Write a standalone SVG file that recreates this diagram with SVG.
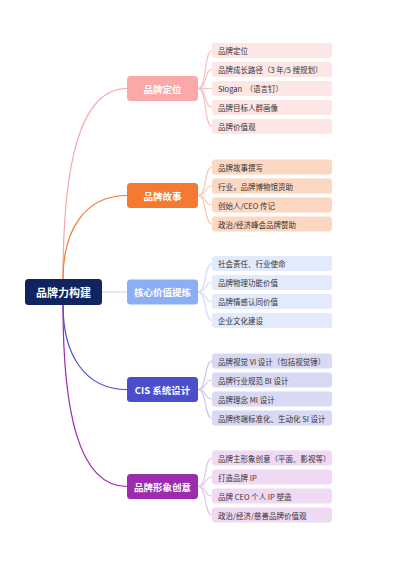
<svg xmlns="http://www.w3.org/2000/svg" width="400" height="566" viewBox="0 0 400 566">
<style>
text{font-family:"Noto Sans CJK SC","Noto Sans",sans-serif;dominant-baseline:central}
.root text,.branch text{fill:#fff;font-weight:bold;text-anchor:middle}
.root text{font-size:11px}
.branch text{font-size:9.5px}
.leaf text{fill:#333;font-size:7.5px}
.conn path{fill:none;stroke-width:1.2}
.p1{fill:#f9a9a9}.l1{fill:#fde6e6}
.p2{fill:#f47a31}.l2{fill:#fcd8c3}
.p3{fill:#8caef5}.l3{fill:#e2eafc}
.p4{fill:#4b4ec8}.l4{fill:#d9d9f4}
.p5{fill:#9a2cad}.l5{fill:#f0d9f3}
</style>
<rect width="400" height="566" fill="#fff"/>
<g id="connectors" class="conn">
<path d="M63,279 C63,170 78,88.5 127,88.5" stroke="#f5a8a8"/>
<path d="M63,279 C63,230 85,195.5 127,195.5" stroke="#f07a30"/>
<path d="M102,292 L127,292" stroke="#cdd9f7"/>
<path d="M63,305 C63,355 85,389.5 127,389.5" stroke="#4b4ec8"/>
<path d="M63,305 C63,410 78,486.5 127,486.5" stroke="#9a2cad"/>
<g stroke="#f6c3c3">
<path d="M198,88.5 C207,88.5 204,50.5 212,50.5"/>
<path d="M198,88.5 C207,88.5 204,69.5 212,69.5"/>
<path d="M198,88.5 L212,88.5"/>
<path d="M198,88.5 C207,88.5 204,107.5 212,107.5"/>
<path d="M198,88.5 C207,88.5 204,126.5 212,126.5"/>
</g>
<g stroke="#f8cbb0">
<path d="M198,195.5 C207,195.5 204,167 212,167"/>
<path d="M198,195.5 C207,195.5 204,186 212,186"/>
<path d="M198,195.5 C207,195.5 204,205 212,205"/>
<path d="M198,195.5 C207,195.5 204,224 212,224"/>
</g>
<g stroke="#d3def8">
<path d="M198,292 C207,292 204,263.5 212,263.5"/>
<path d="M198,292 C207,292 204,282.5 212,282.5"/>
<path d="M198,292 C207,292 204,301.5 212,301.5"/>
<path d="M198,292 C207,292 204,320.5 212,320.5"/>
</g>
<g stroke="#c9c9ef">
<path d="M198,389.5 C207,389.5 204,361 212,361"/>
<path d="M198,389.5 C207,389.5 204,380 212,380"/>
<path d="M198,389.5 C207,389.5 204,399 212,399"/>
<path d="M198,389.5 C207,389.5 204,418 212,418"/>
</g>
<g stroke="#e5c6ea">
<path d="M198,486.5 C207,486.5 204,458 212,458"/>
<path d="M198,486.5 C207,486.5 204,477 212,477"/>
<path d="M198,486.5 C207,486.5 204,496 212,496"/>
<path d="M198,486.5 C207,486.5 204,515 212,515"/>
</g>
</g>
<g id="root" class="root"><rect x="25" y="279" width="77" height="26" rx="3.5" fill="#0f2461"/><text x="63.5" y="292">品牌力构建</text></g>
<g id="b1" class="branch"><rect class="p1" x="127" y="76" width="71" height="25" rx="3.5"/><text x="162.5" y="88.5">品牌定位</text></g>
<g id="b2" class="branch"><rect class="p2" x="127" y="183" width="71" height="25" rx="3.5"/><text x="162.5" y="195.5">品牌故事</text></g>
<g id="b3" class="branch"><rect class="p3" x="127" y="279.5" width="71" height="25" rx="3.5"/><text x="162.5" y="292">核心价值提炼</text></g>
<g id="b4" class="branch"><rect class="p4" x="127" y="377" width="71" height="25" rx="3.5"/><text x="162.5" y="389.5">CIS 系统设计</text></g>
<g id="b5" class="branch"><rect class="p5" x="127" y="474" width="71" height="25" rx="3.5"/><text x="162.5" y="486.5">品牌形象创意</text></g>
<g id="l1a" class="leaf"><rect class="l1" x="212" y="43" width="120" height="15" rx="3"/><text x="218" y="50.5">品牌定位</text></g>
<g id="l1b" class="leaf"><rect class="l1" x="212" y="62" width="120" height="15" rx="3"/><text x="218" y="69.5">品牌成长路径（3 年/5 搜规划）</text></g>
<g id="l1c" class="leaf"><rect class="l1" x="212" y="81" width="120" height="15" rx="3"/><text x="218" y="88.5" xml:space="preserve">Slogan  （语言钉）</text></g>
<g id="l1d" class="leaf"><rect class="l1" x="212" y="100" width="120" height="15" rx="3"/><text x="218" y="107.5">品牌目标人群画像</text></g>
<g id="l1e" class="leaf"><rect class="l1" x="212" y="119" width="120" height="15" rx="3"/><text x="218" y="126.5">品牌价值观</text></g>
<g id="l2a" class="leaf"><rect class="l2" x="212" y="159.5" width="120" height="15" rx="3"/><text x="218" y="167">品牌故事撰写</text></g>
<g id="l2b" class="leaf"><rect class="l2" x="212" y="178.5" width="120" height="15" rx="3"/><text x="218" y="186">行业，品牌博物馆资助</text></g>
<g id="l2c" class="leaf"><rect class="l2" x="212" y="197.5" width="120" height="15" rx="3"/><text x="218" y="205">创始人/CEO 传记</text></g>
<g id="l2d" class="leaf"><rect class="l2" x="212" y="216.5" width="120" height="15" rx="3"/><text x="218" y="224">政治/经济峰会品牌赞助</text></g>
<g id="l3a" class="leaf"><rect class="l3" x="212" y="256" width="120" height="15" rx="3"/><text x="218" y="263.5">社会责任、行业使命</text></g>
<g id="l3b" class="leaf"><rect class="l3" x="212" y="275" width="120" height="15" rx="3"/><text x="218" y="282.5">品牌物理功能价值</text></g>
<g id="l3c" class="leaf"><rect class="l3" x="212" y="294" width="120" height="15" rx="3"/><text x="218" y="301.5">品牌情感认同价值</text></g>
<g id="l3d" class="leaf"><rect class="l3" x="212" y="313" width="120" height="15" rx="3"/><text x="218" y="320.5">企业文化建设</text></g>
<g id="l4a" class="leaf"><rect class="l4" x="212" y="353.5" width="120" height="15" rx="3"/><text x="218" y="361">品牌视觉 VI 设计（包括视觉锤）</text></g>
<g id="l4b" class="leaf"><rect class="l4" x="212" y="372.5" width="120" height="15" rx="3"/><text x="218" y="380">品牌行业规范 BI 设计</text></g>
<g id="l4c" class="leaf"><rect class="l4" x="212" y="391.5" width="120" height="15" rx="3"/><text x="218" y="399">品牌理念 MI 设计</text></g>
<g id="l4d" class="leaf"><rect class="l4" x="212" y="410.5" width="120" height="15" rx="3"/><text x="218" y="418">品牌终端标准化、生动化 SI 设计</text></g>
<g id="l5a" class="leaf"><rect class="l5" x="212" y="450.5" width="120" height="15" rx="3"/><text x="218" y="458">品牌主形象创意（平面、影视等）</text></g>
<g id="l5b" class="leaf"><rect class="l5" x="212" y="469.5" width="120" height="15" rx="3"/><text x="218" y="477">打造品牌 IP</text></g>
<g id="l5c" class="leaf"><rect class="l5" x="212" y="488.5" width="120" height="15" rx="3"/><text x="218" y="496">品牌 CEO 个人 IP 塑造</text></g>
<g id="l5d" class="leaf"><rect class="l5" x="212" y="507.5" width="120" height="15" rx="3"/><text x="218" y="515">政治/经济/慈善品牌价值观</text></g>
</svg>
